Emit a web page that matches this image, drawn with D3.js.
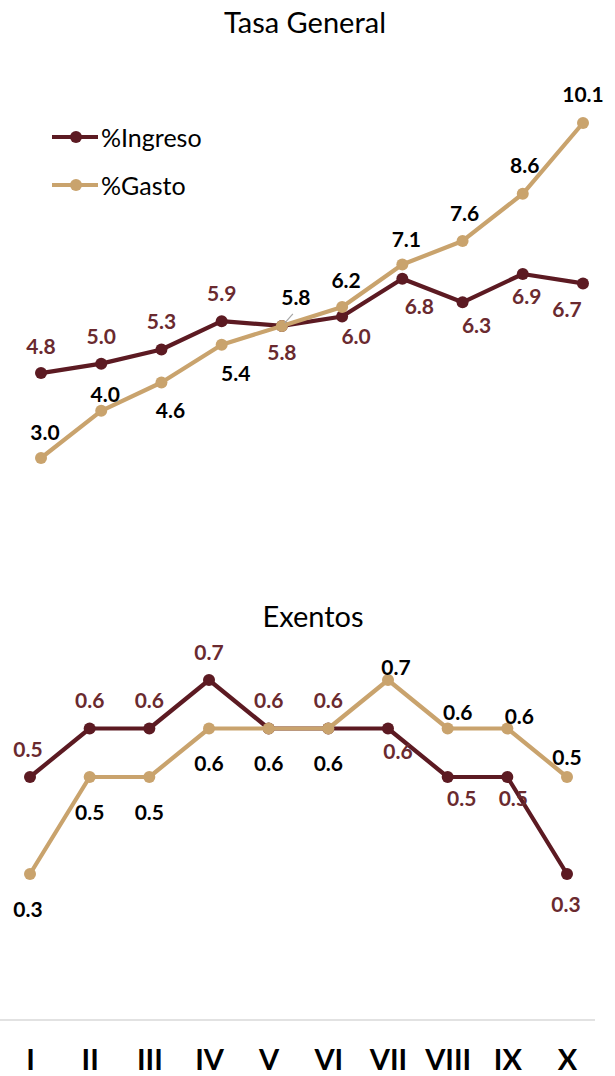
<!DOCTYPE html>
<html>
<head>
<meta charset="utf-8">
<script src="https://cdn.jsdelivr.net/npm/d3@7"></script>
<style>
  html, body { margin: 0; padding: 0; background: #ffffff; }
  svg { display: block; font-family: Lato, "Open Sans", sans-serif; }
</style>
</head>
<body>
<svg id="chart" width="615" height="1076"></svg>
<script>
// Deciles and the two ratios shown for each panel
const categories = ["I", "II", "III", "IV", "V", "VI", "VII", "VIII", "IX", "X"];
const seriesNames = ["%Ingreso", "%Gasto"];

const tasaIngreso = [4.8, 5.0, 5.3, 5.9, 5.8, 6.0, 6.8, 6.3, 6.9, 6.7];
const tasaGasto   = [3.0, 4.0, 4.6, 5.4, 5.8, 6.2, 7.1, 7.6, 8.6, 10.1];

const exentosIngreso = [0.5, 0.6, 0.6, 0.7, 0.6, 0.6, 0.6, 0.5, 0.5, 0.3];
const exentosGasto   = [0.3, 0.5, 0.5, 0.6, 0.6, 0.6, 0.7, 0.6, 0.6, 0.5];

// Label placement (offset of each value label from its marker)
const tasaIngresoLabelDy = [-28, -28, -29, -29, 26, 19, 27, 22, 22, 25];
const tasaIngresoLabelDx = [0, 0, 0, 0, 0, 14, 17, 14, 4, -16];
const tasaGastoLabelDy   = [-27, -17, 27, 28, -29, -28, -26, -28, -29, -30];
const tasaGastoLabelDx   = [4, 4, 9, 14, 14, 4, 4, 2, 2, 0];

const exIngresoLabelDy = [-29, -29, -29, -29, -29, -29, 22, 20, 20, 29];
const exIngresoLabelDx = [-2, 0, 0, 0, 0, 0, 10, 14, 6, -1];
const exGastoLabelDy   = [34, 34, 34, 34, 34, 34, -14, -17, -13, -21];
const exGastoLabelDx   = [-2, 0, 0, 0, 0, 0, 8, 10, 12, 0];

const colorIngreso = "#5c1a22";
const colorGasto = "#c9a36d";
const labelIngreso = "#6a2a2f";
const labelGasto = "#000000";

const svg = d3.select("#chart");

// Scales
const xTop = d3.scalePoint().domain(categories).range([41, 583]);
const yTop = d3.scaleLinear().domain([3.0, 10.1]).range([458, 123]);

const xBot = d3.scalePoint().domain(categories).range([30, 567]);
const yBot = d3.scaleLinear().domain([0.3, 0.7]).range([874, 680]);

function drawSeries(g, x, y, values, color) {
  const pts = categories.map((c, i) => ({ c, v: values[i], i }));
  const line = d3.line().x(d => x(d.c)).y(d => y(d.v));
  const s = g.append("g");
  s.append("path")
    .datum(pts)
    .attr("d", line)
    .attr("fill", "none")
    .attr("stroke", color)
    .attr("stroke-width", 4.2)
    .attr("stroke-linejoin", "round");
  s.selectAll("circle")
    .data(pts)
    .join("circle")
    .attr("cx", d => x(d.c))
    .attr("cy", d => y(d.v))
    .attr("r", 6)
    .attr("fill", color);
}

function drawLabels(g, x, y, values, labelColor, dxs, dys) {
  g.append("g")
    .selectAll("text")
    .data(categories.map((c, i) => ({ c, v: values[i], i })))
    .join("text")
    .attr("x", d => x(d.c) + dxs[d.i])
    .attr("y", d => y(d.v) + dys[d.i])
    .attr("text-anchor", "middle")
    .attr("dominant-baseline", "central")
    .attr("font-size", 21)
    .attr("font-weight", 700)
    .attr("fill", labelColor)
    .text(d => d3.format(".1f")(d.v));
}

// ---- Panel 1: Tasa General ----
const panelTop = svg.append("g");
panelTop.append("text")
  .attr("x", 305).attr("y", 33)
  .attr("text-anchor", "middle")
  .attr("font-size", 29)
  .attr("fill", "#000")
  .text("Tasa General");

drawSeries(panelTop, xTop, yTop, tasaIngreso, colorIngreso);
drawSeries(panelTop, xTop, yTop, tasaGasto, colorGasto);

// leader line from the crossing point to its label
{
  const px = xTop("V"), py = yTop(tasaGasto[4]);
  panelTop.append("line")
    .attr("x1", px + 3).attr("y1", py - 3)
    .attr("x2", px + 11).attr("y2", py - 12)
    .attr("stroke", "#a6a6a6").attr("stroke-width", 1.2);
}

drawLabels(panelTop, xTop, yTop, tasaIngreso, labelIngreso, tasaIngresoLabelDx, tasaIngresoLabelDy);
drawLabels(panelTop, xTop, yTop, tasaGasto, labelGasto, tasaGastoLabelDx, tasaGastoLabelDy);

// Legend
const legend = svg.append("g");
[colorIngreso, colorGasto].forEach((col, i) => {
  const ly = 137 + i * 48;
  legend.append("line")
    .attr("x1", 52).attr("x2", 98)
    .attr("y1", ly).attr("y2", ly)
    .attr("stroke", col).attr("stroke-width", 4.2);
  legend.append("circle")
    .attr("cx", 76).attr("cy", ly).attr("r", 6).attr("fill", col);
  legend.append("text")
    .attr("x", 101).attr("y", ly)
    .attr("dominant-baseline", "central")
    .attr("font-size", 25)
    .attr("fill", "#000")
    .text(seriesNames[i]);
});

// ---- Panel 2: Exentos ----
const panelBot = svg.append("g");
panelBot.append("text")
  .attr("x", 313).attr("y", 627)
  .attr("text-anchor", "middle")
  .attr("font-size", 29)
  .attr("fill", "#000")
  .text("Exentos");

drawSeries(panelBot, xBot, yBot, exentosIngreso, colorIngreso);
drawSeries(panelBot, xBot, yBot, exentosGasto, colorGasto);
drawLabels(panelBot, xBot, yBot, exentosIngreso, labelIngreso, exIngresoLabelDx, exIngresoLabelDy);
drawLabels(panelBot, xBot, yBot, exentosGasto, labelGasto, exGastoLabelDx, exGastoLabelDy);

// ---- Category axis ----
svg.append("line")
  .attr("x1", 0).attr("x2", 595)
  .attr("y1", 1020).attr("y2", 1020)
  .attr("stroke", "#d9d9d9").attr("stroke-width", 1.5);

const axis = svg.append("g")
  .attr("transform", "translate(0,1050)")
  .call(d3.axisBottom(xBot).tickSize(0).tickPadding(0));
axis.select(".domain").remove();
axis.selectAll("text")
  .attr("dy", null)
  .attr("y", 20)
  .attr("font-family", "Lato, 'Open Sans', sans-serif")
  .attr("font-size", 29)
  .attr("font-weight", 700)
  .attr("fill", "#000");
</script>
</body>
</html>
